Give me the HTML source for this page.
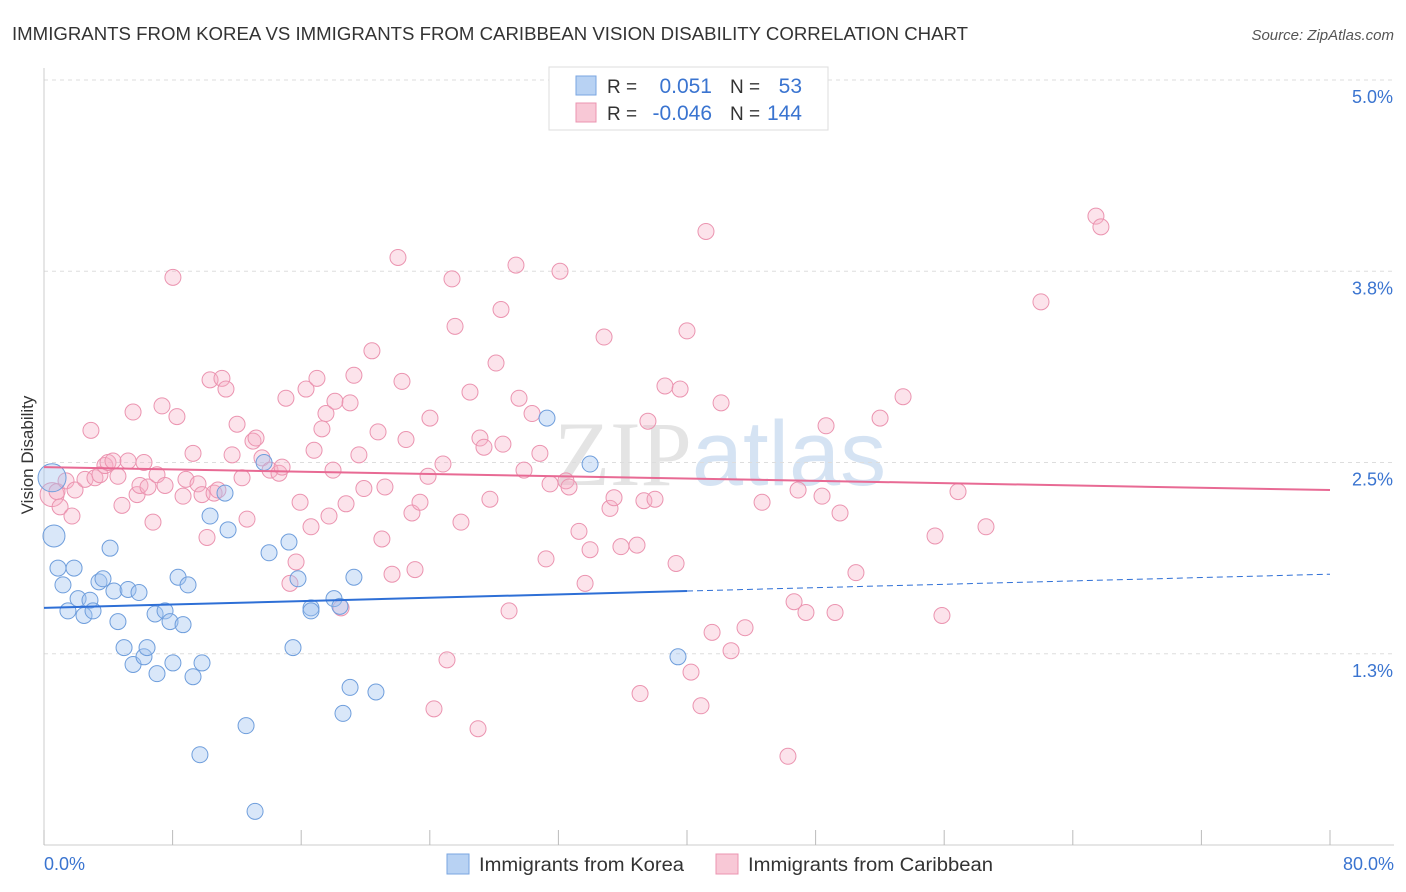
<!DOCTYPE html>
<html><head><meta charset="utf-8"><style>
body{margin:0;background:#fff;font-family:"Liberation Sans",sans-serif;}
#wrap{position:relative;width:1406px;height:892px;overflow:hidden;}
</style></head><body>
<div id="wrap">
<svg id="chart" width="1406" height="892">
<text x="12" y="40" font-size="18.6" fill="#333" textLength="956" lengthAdjust="spacingAndGlyphs">IMMIGRANTS FROM KOREA VS IMMIGRANTS FROM CARIBBEAN VISION DISABILITY CORRELATION CHART</text>
<text x="1394" y="40" font-size="15" fill="#555" font-style="italic" text-anchor="end">Source: ZipAtlas.com</text>
<text x="720" y="485" font-size="92" fill="#e4e4e4" text-anchor="middle" font-family="Liberation Serif,serif">ZIP<tspan fill="#d5e3f3" font-family="Liberation Sans,sans-serif">atlas</tspan></text>
<g id="grid"></g><g id="axes"></g><g id="pts"></g><g id="trends"></g>
<text x="33" y="455" font-size="17" fill="#333" text-anchor="middle" transform="rotate(-90 33 455)">Vision Disability</text>
<text x="44" y="870" font-size="18" fill="#3a74d0">0.0%</text>
<text x="1394" y="870" font-size="18" fill="#3a74d0" text-anchor="end">80.0%</text>
<g>
<rect x="549" y="67" width="279" height="63" fill="#fff" stroke="#ddd"/>
<rect x="576" y="76" width="20" height="19" fill="#b8d2f3" stroke="#7aa6e0"/>
<rect x="576" y="103" width="20" height="19" fill="#f8c8d6" stroke="#eb94b0"/>
<text x="607" y="93" font-size="19" fill="#333">R = </text><text x="712" y="93" font-size="21" fill="#3a74d0" text-anchor="end">0.051</text>
<text x="730" y="93" font-size="19" fill="#333">N = </text><text x="802" y="93" font-size="21" fill="#3a74d0" text-anchor="end">53</text>
<text x="607" y="120" font-size="19" fill="#333">R = </text><text x="712" y="120" font-size="21" fill="#3a74d0" text-anchor="end">-0.046</text>
<text x="730" y="120" font-size="19" fill="#333">N = </text><text x="802" y="120" font-size="21" fill="#3a74d0" text-anchor="end">144</text>
</g>
<g>
<rect x="447" y="854" width="22" height="20" fill="#b8d2f3" stroke="#7aa6e0"/>
<text x="479" y="871" font-size="19" fill="#333" textLength="205" lengthAdjust="spacingAndGlyphs">Immigrants from Korea</text>
<rect x="716" y="854" width="22" height="20" fill="#f8c8d6" stroke="#eb94b0"/>
<text x="748" y="871" font-size="19" fill="#333" textLength="245" lengthAdjust="spacingAndGlyphs">Immigrants from Caribbean</text>
</g>
</svg>
</div>
<script>
const yTicks=[1.25,2.5,3.75,5.0];
const yTickLabels=["1.3%","2.5%","3.8%","5.0%"];
const xTicks=[0,8,16,24,32,40,48,56,64,72,80];
const koreaX=[0.62,0.50,0.87,1.18,1.49,1.87,2.12,2.49,2.86,3.05,3.42,3.67,4.11,4.35,4.60,4.98,5.23,5.54,5.91,6.22,6.41,6.91,7.03,7.53,7.84,8.02,8.34,8.65,8.96,9.27,9.70,9.83,10.33,11.26,11.45,12.57,13.13,13.69,14.00,15.24,15.80,16.61,16.61,18.04,18.41,18.60,19.04,19.28,20.65,15.49,31.29,33.97,39.44];
const koreaY=[2.02,2.40,1.81,1.70,1.53,1.81,1.61,1.50,1.60,1.53,1.72,1.74,1.94,1.66,1.46,1.29,1.67,1.18,1.65,1.23,1.29,1.51,1.12,1.53,1.46,1.19,1.75,1.44,1.70,1.10,0.59,1.19,2.15,2.30,2.06,0.78,0.22,2.50,1.91,1.98,1.74,1.55,1.53,1.61,1.56,0.86,1.03,1.75,1.00,1.29,2.79,2.49,1.23];
const carX=[0.50,0.81,1.00,1.37,1.74,1.93,2.55,2.92,3.17,3.48,3.79,3.98,4.29,4.60,4.85,5.23,5.54,5.79,5.97,6.22,6.47,6.78,7.03,7.34,7.53,8.02,8.27,8.65,8.83,9.27,9.58,9.83,10.14,10.33,10.58,10.82,11.07,11.32,11.70,12.01,12.32,12.63,13.00,13.19,13.56,14.06,14.62,14.81,15.05,15.30,15.68,15.93,16.30,16.61,16.80,16.98,17.29,17.54,17.73,17.98,18.10,18.48,18.79,19.04,19.28,19.59,19.90,20.40,20.78,21.02,21.21,21.65,22.02,22.27,22.52,22.89,23.08,23.39,23.89,24.01,24.26,24.82,25.07,25.38,25.57,25.94,26.50,27.00,27.12,27.37,27.74,28.12,28.43,28.55,28.93,29.36,29.55,29.86,30.36,30.85,31.23,31.48,32.10,32.47,32.66,33.28,33.66,33.97,34.84,35.21,35.46,35.89,36.89,37.08,37.32,37.57,38.01,38.63,39.32,39.57,40.00,40.25,40.87,41.18,41.56,42.12,42.74,43.61,44.67,46.28,46.66,46.91,47.40,48.40,48.65,49.21,49.52,50.51,52.01,53.44,55.43,55.86,56.86,58.60,62.02,65.44,65.75];
const carY=[2.29,2.31,2.21,2.38,2.15,2.32,2.39,2.71,2.40,2.42,2.48,2.50,2.51,2.41,2.22,2.51,2.83,2.29,2.35,2.50,2.34,2.11,2.42,2.87,2.35,3.71,2.80,2.28,2.39,2.56,2.36,2.29,2.01,3.04,2.30,2.32,3.05,2.98,2.55,2.75,2.40,2.13,2.64,2.66,2.53,2.45,2.43,2.47,2.92,1.71,1.85,2.24,2.98,2.08,2.58,3.05,2.72,2.82,2.15,2.45,2.90,1.55,2.23,2.89,3.07,2.55,2.33,3.23,2.70,2.00,2.34,1.77,3.84,3.03,2.65,2.17,1.80,2.24,2.41,2.79,0.89,2.49,1.21,3.70,3.39,2.11,2.96,0.76,2.66,2.60,2.26,3.15,3.50,2.62,1.53,3.79,2.92,2.45,2.82,2.56,1.87,2.36,3.75,2.38,2.34,2.05,1.71,1.93,3.32,2.20,2.27,1.95,1.96,0.99,2.25,2.77,2.26,3.00,1.84,2.98,3.36,1.13,0.91,4.01,1.39,2.89,1.27,1.42,2.24,0.58,1.59,2.32,1.52,2.28,2.74,1.52,2.17,1.78,2.79,2.93,2.02,1.50,2.31,2.08,3.55,4.11,4.04];
const koreaTrend=[1.55,1.77];
const carTrend=[2.47,2.32];
const koreaSolidEnd=40;
const X0=44,X1=1330,Y0=845,Y5=80;
const sx=v=>X0+(v/80)*(X1-X0);
const sy=v=>Y0-(v/5)*(Y0-Y5);
const NS="http://www.w3.org/2000/svg";
function mk(tag,attrs,parent){const e=document.createElementNS(NS,tag);for(const k in attrs)e.setAttribute(k,attrs[k]);document.getElementById(parent).appendChild(e);return e;}
yTicks.forEach((t,i)=>{
 const l=mk('line',{x1:X0,x2:1394,y1:sy(t),y2:sy(t),stroke:'#ddd','stroke-dasharray':'4,4'},'grid');
 
 
 const tx=mk('text',{x:1393,y:sy(t)+23,'font-size':18,fill:'#3a74d0','text-anchor':'end'},'grid');
 tx.textContent=yTickLabels[i];
 
 
});
const ax=mk('line',{x1:X0,x2:X0,y1:68,y2:Y0,stroke:'#ccc'},'axes');


const bx=mk('line',{x1:X0,x2:1394,y1:Y0,y2:Y0,stroke:'#ccc'},'axes');


xTicks.forEach(t=>{
 const l=mk('line',{x1:sx(t),x2:sx(t),y1:830,y2:Y0,stroke:'#bbb'},'axes');
 
 
});
carX.forEach((x,i)=>{
 const c=mk('circle',{cx:sx(x),cy:sy(carY[i]),r:i===0?12:8,fill:'rgba(246,176,198,0.35)',stroke:'#eb94b0','stroke-width':1},'pts');
 
 
});
koreaX.forEach((x,i)=>{
 const c=mk('circle',{cx:sx(x),cy:sy(koreaY[i]),r:i===1?14:(i===0?11:8),fill:'rgba(160,196,240,0.4)',stroke:'#6f9edc','stroke-width':1},'pts');
 
 
});
const kAt=v=>koreaTrend[0]+(koreaTrend[1]-koreaTrend[0])*v/80;
const k1=mk('line',{x1:sx(0),y1:sy(kAt(0)),x2:sx(koreaSolidEnd),y2:sy(kAt(koreaSolidEnd)),stroke:'#2e6fd6','stroke-width':2},'trends');


const k2=mk('line',{x1:sx(koreaSolidEnd),y1:sy(kAt(koreaSolidEnd)),x2:sx(80),y2:sy(kAt(80)),stroke:'#2e6fd6','stroke-width':1,'stroke-dasharray':'6,4'},'trends');


const p1=mk('line',{x1:sx(0),y1:sy(carTrend[0]),x2:sx(80),y2:sy(carTrend[1]),stroke:'#e86a94','stroke-width':2},'trends');


</script>
</body></html>
